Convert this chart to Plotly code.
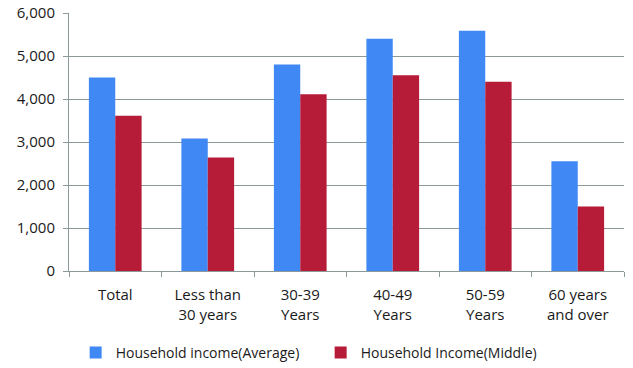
import plotly.graph_objects as go

categories = ["Total", "Less than<br>30 years", "30-39<br>Years", "40-49<br>Years", "50-59<br>Years", "60 years<br>and over"]
avg_income = [4500, 3080, 4800, 5400, 5590, 2550]
mid_income = [3610, 2640, 4110, 4550, 4400, 1500]
y_ticks = [0, 1000, 2000, 3000, 4000, 5000, 6000]

font_family = "Open Sans, Liberation Sans, sans-serif"

fig = go.Figure()
fig.add_trace(go.Bar(x=categories, y=avg_income, name="Household income(Average)",
                     marker=dict(color="#4088F4", line=dict(width=0))))
fig.add_trace(go.Bar(x=categories, y=mid_income, name="Household Income(Middle)",
                     marker=dict(color="#B61B38", line=dict(width=0))))

fig.update_layout(
    width=633, height=368,
    margin=dict(l=69, r=9, t=13, b=97, autoexpand=False),
    paper_bgcolor="white", plot_bgcolor="white",
    barmode="group", bargap=0.43, bargroupgap=0,
    font=dict(family=font_family, size=15, color="#1a1a1a"),
    showlegend=True,
    legend=dict(orientation="h", x=0.012, xanchor="left", xref="paper",
                y=15 / 368, yref="container", yanchor="middle",
                font=dict(size=14), itemwidth=30, entrywidth=200, entrywidthmode="pixels"),
    xaxis=dict(showgrid=False, showline=True, linecolor="#8c9999", linewidth=1,
               ticks="outside", tickson="boundaries", ticklen=5, tickcolor="#8c9999",
               ticklabelstandoff=10, tickfont=dict(size=15)),
    yaxis=dict(range=[0, 6000], tickvals=y_ticks, tickformat=",",
               showgrid=True, gridcolor="#8c9999", gridwidth=1,
               showline=True, linecolor="#8c9999", linewidth=1,
               ticks="outside", ticklen=5, tickcolor="#8c9999",
               ticklabelstandoff=5,
               zeroline=False, tickfont=dict(size=15)),
)

fig.write_html("out.html")
